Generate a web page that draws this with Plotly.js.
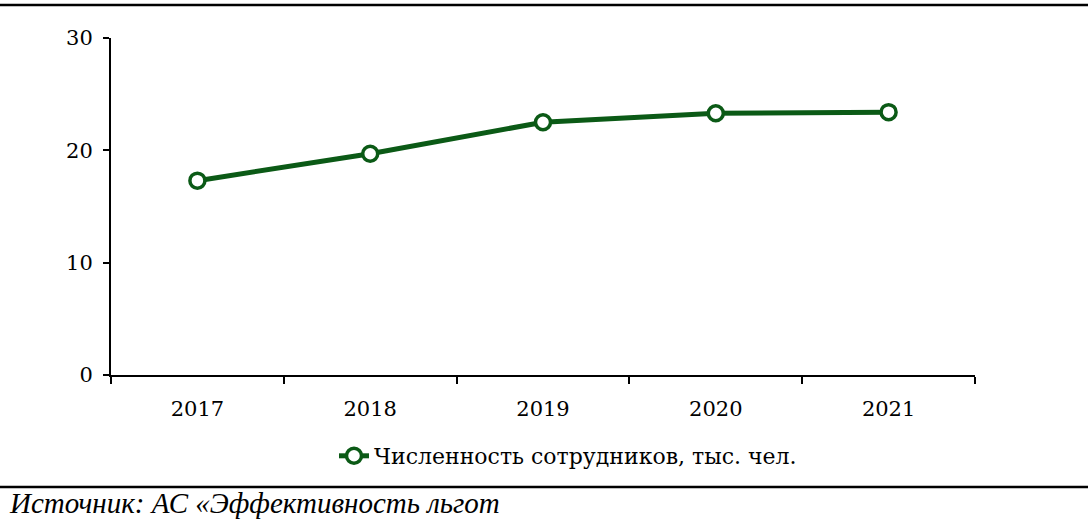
<!DOCTYPE html>
<html><head><meta charset="utf-8">
<script src="https://cdn.plot.ly/plotly-3.0.1.min.js"></script>
<style>html,body{margin:0;padding:0;background:#fff}#chart{width:1088px;height:532px}</style>
</head><body><div id="chart"></div>
<script>
const years = ['2017','2018','2019','2020','2021'];
const employees = [17.3, 19.7, 22.5, 23.3, 23.4];
const seriesName = 'Численность сотрудников, тыс. чел.';
const sourceText = 'Источник: АС «Эффективность льгот';

const W = 1088, H = 532;
const M = {l: 111, r: 113, t: 38, b: 157};
const PH = H - M.t - M.b, PW = W - M.l - M.r;
const py = p => (H - M.b - p) / PH;   // pixel y -> paper y
const px = p => (p - M.l) / PW;       // pixel x -> paper x
const green = '#0b5a16';
const font = 'DejaVu Serif, Liberation Serif, serif';

const trace = {
  x: years, y: employees, name: seriesName, type: 'scatter', mode: 'lines+markers',
  line: {color: green, width: 5},
  marker: {symbol: 'circle', size: 15, color: '#ffffff', line: {color: green, width: 3.5}},
  showlegend: true
};

const layout = {
  width: W, height: H,
  margin: M,
  paper_bgcolor: '#fff', plot_bgcolor: '#fff',
  font: {family: font, size: 21, color: '#000'},
  showlegend: true,
  xaxis: {
    type: 'category', range: [-0.5, 4.5],
    showline: true, linecolor: '#000', linewidth: 2,
    ticks: 'outside', tickson: 'boundaries', ticklen: 7, tickwidth: 2, tickcolor: '#000',
    showgrid: false, zeroline: false, ticklabelstandoff: 14,
    tickfont: {family: font, size: 21, color: '#000'}
  },
  yaxis: {
    range: [0, 30], tickvals: [0, 10, 20, 30],
    showline: true, linecolor: '#000', linewidth: 2,
    ticks: 'outside', ticklen: 6, tickwidth: 2, tickcolor: '#000',
    showgrid: false, zeroline: false, ticklabelstandoff: 6,
    tickfont: {family: font, size: 21, color: '#000'}
  },
  legend: {
    orientation: 'h', x: px(568), xanchor: 'center', y: py(456), yanchor: 'middle',
    font: {family: font, size: 22, color: '#000'}, bgcolor: 'rgba(0,0,0,0)'
  },
  shapes: [
    {type: 'line', xref: 'paper', yref: 'paper', x0: px(0), x1: px(W), y0: py(5), y1: py(5), line: {color: '#000', width: 2.5}},
    {type: 'line', xref: 'paper', yref: 'paper', x0: px(0), x1: px(W), y0: py(487), y1: py(487), line: {color: '#000', width: 2.5}}
  ],
  annotations: [
    {text: sourceText, xref: 'paper', yref: 'paper', x: px(7), xanchor: 'left', y: py(503), yanchor: 'middle',
     showarrow: false, font: {family: 'Liberation Serif, serif', size: 29, color: '#000', style: 'italic'}}
  ]
};

Plotly.newPlot('chart', [trace], layout, {displayModeBar: false, staticPlot: true});
</script></body></html>
